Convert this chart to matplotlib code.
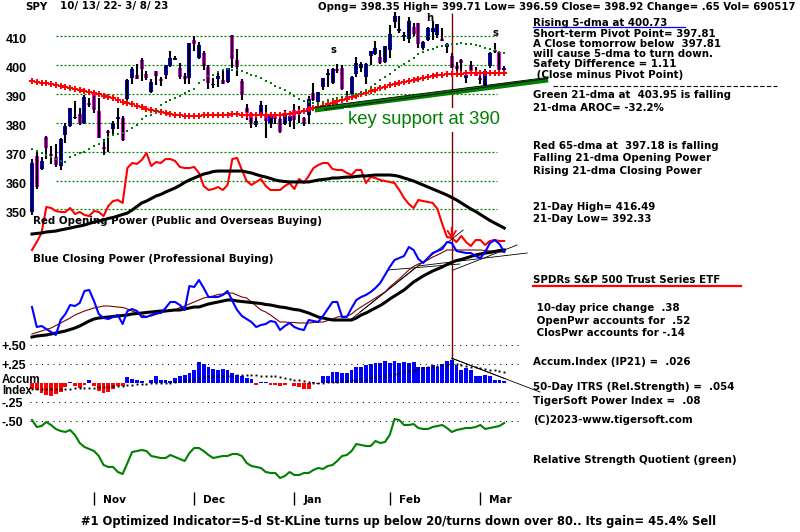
import matplotlib
matplotlib.use("Agg")
import matplotlib.pyplot as plt
from matplotlib.lines import Line2D

# TigerSoft style chart for SPY, 10/13/22 - 3/8/23

months = ["Nov", "Dec", "Jan", "Feb", "Mar"]
month_idx = [13, 34, 55, 75, 94]

opens = [349.21, 368.55, 364.01, 375.13, 368.95, 368.03, 365.12, 375.89, 378.79, 381.62,
         383.07, 379.87, 386.44, 390.14, 383.90, 371.47, 377.13, 377.71, 381.11, 381.58,
         388.05, 395.59, 396.66, 401.70, 396.79, 390.46, 397.74, 394.64, 396.63, 399.55,
         401.83, 399.09, 396.05, 395.49, 408.77, 402.25, 403.95, 399.42, 392.94, 395.14,
         394.94, 394.11, 410.22, 401.61, 394.30, 385.18, 383.47, 379.23, 382.98, 383.05,
         379.65, 382.79, 381.33, 379.63, 380.64, 384.37, 383.18, 381.72, 382.61, 390.37,
         387.25, 392.23, 396.67, 393.62, 398.48, 399.01, 389.36, 390.10, 396.72, 398.88,
         395.95, 403.13, 403.66, 402.80, 401.13, 405.21, 414.86, 411.59, 409.79, 408.87,
         413.13, 414.41, 405.86, 408.72, 411.24, 410.35, 408.79, 406.06, 403.06, 399.52,
         401.56, 395.42, 399.87, 397.23, 395.41, 392.68, 399.71, 405.05, 404.42, 398.35]
highs = [367.51, 370.26, 367.98, 375.45, 371.85, 372.67, 374.80, 380.06, 385.25, 387.58,
         385.00, 389.52, 388.40, 390.39, 388.63, 374.20, 377.49, 380.57, 385.12, 382.42,
         395.04, 399.35, 400.18, 402.31, 397.78, 394.95, 397.81, 395.82, 400.07, 404.93,
         402.91, 400.81, 397.30, 407.68, 410.00, 407.86, 404.93, 399.99, 395.64, 397.36,
         397.79, 398.99, 410.49, 405.50, 395.25, 386.58, 383.82, 383.40, 387.41, 386.21,
         383.06, 383.15, 383.39, 384.35, 382.58, 386.43, 385.88, 381.84, 389.25, 393.70,
         390.65, 395.60, 398.49, 399.10, 400.23, 400.12, 391.08, 396.04, 402.65, 401.15,
         400.70, 404.92, 408.16, 405.13, 406.53, 413.67, 418.31, 416.97, 411.29, 416.49,
         414.53, 414.57, 408.44, 412.97, 415.05, 414.06, 412.91, 407.51, 404.16, 401.13,
         402.20, 397.25, 401.29, 399.28, 396.69, 398.69, 404.45, 407.45, 404.67, 399.71]
lows = [348.11, 356.96, 363.51, 367.52, 365.55, 364.61, 363.54, 373.11, 378.67, 381.35,
        379.33, 379.68, 385.26, 383.29, 374.76, 368.79, 369.94, 375.98, 377.72, 373.61,
        385.64, 393.53, 395.13, 394.49, 394.79, 390.14, 393.04, 392.66, 395.15, 399.18,
        401.54, 395.11, 393.30, 393.48, 404.75, 402.14, 398.17, 391.64, 391.97, 392.41,
        393.29, 393.80, 399.07, 396.31, 387.89, 381.04, 378.28, 378.43, 382.66, 374.77,
        378.03, 379.65, 376.42, 379.08, 378.43, 377.83, 380.00, 378.76, 379.41, 387.67,
        386.27, 391.38, 392.42, 393.34, 397.06, 391.28, 387.26, 388.38, 395.72, 397.64,
        393.56, 400.03, 403.44, 400.28, 400.77, 402.35, 412.88, 411.09, 408.10, 407.57,
        409.93, 405.81, 405.01, 408.24, 408.51, 409.47, 408.14, 404.05, 398.82, 397.02,
        396.25, 393.64, 396.75, 396.15, 393.38, 392.33, 399.03, 404.01, 397.63, 396.59]
closes = [365.97, 357.63, 366.82, 371.13, 368.50, 365.41, 374.29, 378.87, 384.92, 382.02,
          379.98, 389.02, 386.21, 384.52, 374.87, 371.01, 376.35, 379.95, 382.00, 374.13,
          394.69, 398.51, 395.12, 398.49, 395.45, 394.24, 396.03, 394.59, 399.90, 402.42,
          402.33, 395.91, 395.23, 407.68, 407.38, 406.91, 399.59, 393.83, 393.16, 396.24,
          393.28, 398.95, 401.97, 399.40, 389.63, 383.27, 380.02, 380.54, 386.23, 380.72,
          382.91, 381.40, 376.66, 383.44, 382.43, 380.82, 383.76, 379.38, 388.08, 387.86,
          390.58, 395.52, 396.96, 398.50, 397.77, 391.49, 388.64, 395.88, 400.63, 400.20,
          400.35, 404.75, 405.68, 400.59, 406.48, 410.80, 416.78, 412.35, 409.83, 415.19,
          410.65, 407.09, 408.04, 412.83, 412.64, 413.98, 408.28, 407.26, 399.09, 398.54,
          400.66, 396.38, 397.73, 396.26, 394.74, 397.81, 404.19, 404.47, 398.27, 398.92]

ma21 = [371.0, 370.3, 369.5, 368.8, 368.0, 367.3, 366.7, 366.3, 368.0, 368.8,
        369.4, 370.0, 371.0, 372.0, 372.8, 373.8, 375.0, 375.6, 376.1, 376.6,
        377.3, 378.1, 379.2, 381.3, 382.3, 382.7, 384.2, 386.0, 387.0, 388.0,
        388.7, 389.4, 390.3, 391.0, 391.8, 393.6, 394.8, 396.0, 396.5, 397.5,
        398.2, 398.5, 398.4, 398.1, 397.8, 397.2, 396.5, 396.0, 395.5, 394.6,
        393.7, 392.7, 391.9, 391.3, 390.4, 389.3, 388.2, 387.4, 387.0, 386.8,
        386.9, 387.3, 387.8, 388.3, 388.7, 389.0, 389.3, 389.6, 389.9, 390.3,
        391.2, 392.3, 393.5, 394.7, 395.8, 397.0, 398.1, 399.2, 400.3, 401.4,
        402.5, 403.6, 404.3, 405.0, 405.6, 406.1, 406.5, 406.9, 407.2, 407.4,
        407.5, 407.4, 407.2, 406.9, 406.5, 406.0, 405.5, 405.0, 404.5, 403.95]
ma65 = [394.3, 394.0, 393.8, 393.6, 393.4, 393.0, 392.6, 392.2, 391.9, 391.6,
        391.3, 391.0, 390.7, 390.4, 389.9, 389.4, 388.9, 388.4, 387.9, 387.3,
        386.8, 386.3, 385.8, 385.3, 384.8, 384.4, 384.0, 383.6, 383.3, 383.0,
        382.7, 382.5, 382.4, 382.3, 382.3, 382.4, 382.5, 382.6, 382.7, 382.7,
        382.8, 382.8, 382.9, 382.9, 382.8, 382.7, 382.7, 382.6, 382.6, 382.7,
        382.7, 382.8, 382.8, 382.9, 383.0, 383.4, 383.8, 384.2, 384.6, 385.0,
        385.4, 385.9, 386.4, 386.9, 387.4, 387.9, 388.3, 388.8, 389.3, 389.8,
        390.4, 390.9, 391.4, 391.9, 392.4, 392.9, 393.3, 393.7, 394.1, 394.5,
        394.9, 395.2, 395.5, 395.8, 396.1, 396.4, 396.6, 396.8, 396.9, 397.0,
        397.0, 397.1, 397.1, 397.1, 397.2, 397.2, 397.2, 397.2, 397.2, 397.18]

# Opening Power (red) and its 21-dma (black), relative units
op = [0.0, 6.7, 14.2, 35.8, 35.0, 32.5, 31.7, 31.7, 35.0, 30.0,
      31.7, 29.2, 28.3, 32.5, 31.7, 28.3, 36.7, 40.8, 41.7, 39.2,
      68.3, 72.5, 71.7, 75.0, 80.8, 70.0, 73.3, 72.5, 75.8, 75.8,
      74.2, 69.2, 68.3, 68.3, 69.2, 64.2, 53.3, 50.0, 50.8, 52.5,
      50.0, 54.2, 75.8, 76.7, 66.7, 57.5, 54.2, 56.7, 59.2, 53.3,
      50.0, 50.0, 50.0, 53.3, 55.8, 50.8, 59.2, 55.8, 61.7, 68.3,
      70.8, 72.5, 72.5, 67.5, 66.7, 66.7, 64.2, 62.5, 66.7, 66.7,
      55.8, 60.8, 60.0, 58.3, 57.5, 56.7, 55.8, 50.0, 43.3, 38.3,
      35.0, 41.7, 40.8, 40.0, 39.2, 34.2, 21.7, 10.8, 10.0, 6.7,
      11.7, 6.7, 3.3, 8.3, 8.3, 4.2, 7.5, 8.3, 7.5, 7.5]
op_ma = [13.3, 13.8, 14.2, 15.0, 15.4, 15.8, 16.7, 17.5, 18.3, 19.2,
         20.0, 20.8, 22.1, 23.3, 24.2, 25.0, 26.3, 27.1, 28.3, 29.6,
         30.8, 33.3, 36.3, 39.2, 40.8, 42.9, 45.0, 46.3, 48.3, 50.0,
         51.7, 53.8, 56.3, 58.3, 60.0, 61.7, 63.3, 64.2, 65.4, 65.8,
         65.8, 65.8, 65.8, 65.8, 65.8, 65.0, 64.2, 62.9, 61.7, 60.8,
         59.6, 58.3, 57.5, 57.1, 56.7, 56.7, 56.7, 56.7, 56.7, 57.5,
         58.3, 58.8, 59.2, 60.0, 60.0, 60.4, 60.8, 60.8, 61.3, 61.7,
         61.7, 62.1, 62.5, 62.5, 62.5, 62.5, 62.1, 61.3, 60.0, 58.8,
         57.5, 55.8, 54.2, 52.5, 50.8, 49.2, 47.5, 45.8, 43.8, 41.7,
         39.2, 36.7, 34.2, 32.1, 29.6, 27.1, 24.6, 22.5, 20.4, 18.3]

# Closing Power (blue), its 21-dma (black) and a faster average (dark red)
cp = [33, 13, 14, 11, 8, 5, 20, 26, 35, 34,
      37, 49, 50, 39, 26, 22, 21, 23, 25, 16,
      29, 31, 29, 23, 23, 25, 27, 27, 32, 38,
      38, 35, 30, 54, 53, 60, 52, 43, 43, 43,
      45, 49, 39, 30, 24, 21, 18, 13, 15, 16,
      19, 18, 10, 14, 17, 13, 11, 10, 20, 19,
      18, 24, 31, 38, 38, 23, 23, 32, 40, 43,
      45, 48, 52, 57, 65, 73, 80, 82, 84, 93,
      90, 81, 77, 82, 87, 89, 91, 98, 97, 89,
      88, 87, 87, 84, 82, 88, 97, 100, 96, 88]
cp_ma = [3, 4, 4.5, 5, 6, 7, 8, 9, 10.5, 12,
         14, 16.5, 19, 21, 22, 22.5, 23, 23.5, 24, 24.5,
         25, 26, 26.5, 27, 27.5, 28, 28.5, 29, 29, 29.5,
         30, 30, 31, 32, 33, 33, 34.5, 36, 37, 38,
         39, 40, 40, 39, 38.5, 38, 37.5, 37, 36.5, 35.5,
         35, 34, 33, 32.5, 31.5, 30.5, 30, 28.5, 27, 25,
         23, 22, 21, 20, 20, 20, 20, 20, 22, 25,
         27, 29.5, 32, 34.5, 37.5, 41, 44, 47, 50, 54,
         58, 61, 64, 66.5, 69, 71, 73, 75.5, 77.5, 79.5,
         80.5, 82, 83.5, 85, 86, 87, 87.5, 88.5, 89.5, 90]
cp_fast = [6, 7.5, 9, 10.5, 12, 14.5, 17, 19.5, 22, 25,
           27, 29, 30.5, 32, 33, 34, 34, 33.5, 33, 32.5,
           31, 29, 27, 25, 23.5, 24, 25.5, 27, 28.5, 29.5,
           30, 32.5, 34, 36, 38, 40, 42, 43, 44, 45.5,
           46, 46.5, 47, 45, 43, 42, 38, 34, 30, 28,
           25, 21.5, 18, 18, 17.5, 17.5, 17, 17, 17, 17.5,
           18, 18, 19.5, 21, 23, 23.5, 24, 26, 30, 33,
           36, 39, 42, 45, 48, 53, 57, 61, 65.5, 70,
           73.5, 76, 78, 80, 83, 85, 87.5, 90, 90, 90,
           90, 90, 90, 90, 90, 89.5, 89, 89, 88, 88]

# Accumulation Index (IP21) and its average
accum = [-0.08, -0.09, -0.13, -0.16, -0.17, -0.14, -0.12, -0.05, 0.02, -0.03,
         -0.06, -0.02, 0.05, -0.03, -0.10, -0.13, -0.12, -0.07, -0.04, -0.04,
         0.08, 0.06, 0.05, 0.03, 0.01, 0.05, 0.09, 0.05, 0.04, 0.03,
         0.07, 0.09, 0.11, 0.14, 0.18, 0.28, 0.26, 0.21, 0.19, 0.18,
         0.19, 0.18, 0.14, 0.11, 0.09, 0.07, 0.06, -0.02, 0.02, 0.02,
         -0.02, -0.02, -0.03, -0.02, 0.01, -0.04, -0.05, -0.07, -0.08, 0.02,
         -0.01, 0.09, 0.09, 0.15, 0.15, 0.14, 0.13, 0.17, 0.21, 0.21,
         0.24, 0.26, 0.27, 0.27, 0.29, 0.27, 0.29, 0.27, 0.28, 0.27,
         0.28, 0.22, 0.21, 0.22, 0.24, 0.22, 0.26, 0.29, 0.31, 0.24,
         0.18, 0.20, 0.18, 0.09, 0.10, 0.11, 0.09, 0.04, 0.04, 0.03]
accum_ma = [-0.08, -0.08, -0.08, -0.08, -0.075, -0.075, -0.07, -0.07, -0.07, -0.065,
            -0.065, -0.06, -0.06, -0.06, -0.055, -0.05, -0.045, -0.04, -0.035, -0.03,
            -0.025, -0.02, -0.015, -0.01, -0.005, 0.0, 0.005, 0.01, 0.01, 0.01,
            0.02, 0.03, 0.04, 0.05, 0.06, 0.07, 0.08, 0.09, 0.09, 0.10,
            0.10, 0.10, 0.10, 0.105, 0.11, 0.11, 0.11, 0.11, 0.10, 0.10,
            0.09, 0.09, 0.08, 0.07, 0.06, 0.05, 0.04, 0.03, 0.02, 0.01,
            0.01, 0.01, 0.015, 0.02, 0.02, 0.025, 0.03, 0.04, 0.05, 0.055,
            0.06, 0.07, 0.08, 0.09, 0.10, 0.11, 0.125, 0.14, 0.155, 0.165,
            0.18, 0.19, 0.20, 0.21, 0.22, 0.23, 0.24, 0.245, 0.25, 0.25,
            0.24, 0.23, 0.22, 0.21, 0.20, 0.19, 0.18, 0.17, 0.16, 0.15]

# Relative Strength Quotient (green), relative units
rsq = [60, 53, 54, 58, 55, 51, 49, 48, 50, 45,
       37, 33, 31, 29, 24, 15, 13, 13, 8, 6,
       17, 28, 29, 30, 29, 24, 23, 22, 22, 25,
       23, 21, 19, 27, 32, 32, 29, 25, 22, 23,
       24, 24, 26, 26, 24, 17, 14, 13, 12, 8,
       7, 7, 2, 4, 8, 5, 5, 7, 7, 10,
       12, 11, 14, 15, 19, 24, 25, 29, 36, 35,
       34, 34, 39, 37, 38, 45, 61, 60, 55, 55,
       56, 52, 51, 51, 53, 54, 55, 52, 48, 50,
       51, 52, 52, 53, 55, 51, 52, 53, 54, 57]

# annotations drawn on the chart
marker_day = 88
pattern_text = ["s", "h", "s"]
pattern_x = [63.2, 83.4, 97.1]
pattern_y = [405.2, 416.2, 411.0]
support_x = [59.3, 108.2]
support_y = [384.4, 394.8]
trend_cp = [((66.7, 20), (90.4, 110)), ((68.8, 28), (80.3, 72)), ((74.6, 70), (89.7, 76)),
            ((80.9, 74), (103.8, 87)), ((88.3, 70), (101.7, 95))]

W, H = 800, 532
DAYS = list(range(len(closes)))
X0, X1 = -32 / 4.77, 768 / 4.77

plt.rcParams["font.family"] = "DejaVu Sans"
fig = plt.figure(figsize=(8, 5.32), dpi=100)
fig.patch.set_facecolor("white")


def panel(top, bottom, lo, hi):
    # full-figure axes where value hi sits at pixel row top and lo at bottom
    s = (bottom - top) / (hi - lo)
    ax = fig.add_axes([0, 0, 1, 1])
    ax.set_xlim(X0, X1)
    ax.set_ylim(lo - (H - bottom) / s, hi + top / s)
    ax.axis("off")
    return ax


def ftext(x, y, s, size=7.4, **kw):
    kw.setdefault("weight", "bold")
    kw.setdefault("color", "black")
    fig.text(x / W, 1 - y / H, s, fontsize=size, va="center", ha="left", **kw)


# ---- price panel ----
ax = panel(36, 209.4, 350, 410)
for p in [410, 400, 390, 380, 370, 360, 350]:
    ax.plot([5.0, 97.5], [p, p], color="#008000", lw=0.9, dashes=(1.6, 1.6))
    ax.annotate(str(p), (6, p), xycoords=("figure pixels", "data"), xytext=(0, -3),
                textcoords="offset points", va="center", ha="left",
                fontsize=9, weight="bold", family="Liberation Sans")

ax.vlines(marker_day, 292, 418, color="#800000", lw=1.0)
ax.vlines(DAYS, lows, highs, color="black", lw=1.5)
body_bot = [min(o, c) for o, c in zip(opens, closes)]
body_h = [max(abs(c - o), 0.5) for o, c in zip(opens, closes)]
body_col = ["#0000FF" if c >= o else "#FF00FF" for o, c in zip(opens, closes)]
ax.bar(DAYS, body_h, bottom=body_bot, width=0.84, color=body_col, lw=0)
ax.plot(DAYS, ma65, ls="none", marker="+", ms=3.8, mew=1.4, color="#FF0000")
ax.plot(DAYS, ma21, ls="none", marker="s", ms=1.6, mew=0, color="#008000")
ax.plot(support_x, support_y, color="#008000", lw=3.6, solid_capstyle="butt")
ax.plot(support_x, [support_y[0] + 0.9, support_y[1] + 0.9], color="black", lw=0.6)
ax.plot([support_x[0] + 2, support_x[1]], [support_y[0] + 0.2, support_y[1] + 0.5], color="black", lw=0.6)
for t, px, py in zip(pattern_text, pattern_x, pattern_y):
    ax.text(px, py, t, ha="center", va="center", fontsize=7.2, weight="bold")

# ---- opening power ----
ax_op = panel(130, 250, 0, 100)
ax_op.plot(DAYS, op, color="#FF0000", lw=1.5)
ax_op.plot(DAYS, op_ma, color="black", lw=2.2)
ax_op.annotate("", xy=(marker_day, 6.5), xytext=(marker_day, 21),
               arrowprops=dict(arrowstyle="->,head_length=0.5,head_width=0.3", color="#FF0000", lw=1.3))

# ---- closing power ----
ax_cp = panel(240, 340, 0, 100)
for (xa, ya), (xb, yb) in trend_cp:
    ax_cp.plot([xa, xb], [ya, yb], color="black", lw=0.6)
ax_cp.plot(DAYS, cp_fast, color="#800000", lw=0.8)
ax_cp.plot(DAYS, cp_ma, color="black", lw=2.2)
ax_cp.plot(DAYS, cp, color="#0000FF", lw=1.5)

# ---- accumulation index ----
ax_ac = panel(345.3, 421.3, -0.5, 0.5)
for lvl in [0.5, 0.25, -0.25, -0.5]:
    ax_ac.plot([-0.4, 101.9], [lvl, lvl], color="black", lw=0.75, dashes=(1, 4.5))
ac_col = ["#0000FF" if v >= 0 else "#FF0000" for v in accum]
ax_ac.bar(DAYS, accum, width=0.8, color=ac_col, lw=0)
ax_ac.plot(DAYS, accum_ma, ls="none", marker="s", ms=1.4, mew=0, color="black")
ax_ac.plot([marker_day, 99.2], [0.33, 0.06], color="black", lw=0.6)
ax_ac.plot([marker_day, 106.5], [0.33, -0.115], color="black", lw=0.6)
for lbl, lvl in [("+.50", 0.5), ("+.25", 0.25), ("-.25", -0.25), ("-.50", -0.5)]:
    ax_ac.annotate(lbl, (2, lvl), xycoords=("figure pixels", "data"), xytext=(0, -1),
                   textcoords="offset points", va="center", ha="left",
                   fontsize=9, weight="bold", family="Liberation Sans")

# ---- relative strength quotient ----
ax_rs = panel(400, 480, 0, 80)
ax_rs.plot(DAYS, rsq, color="#008000", lw=1.5)

# ---- month ticks ----
ax_m = panel(492, 505, 0, 1)
ax_m.vlines(month_idx, 0, 1, color="black", lw=1.0)
for m, i in zip(months, month_idx):
    ax_m.annotate(m, (i, 0.35), xytext=(6.5, 0), textcoords="offset points",
                  va="center", ha="left", fontsize=7.6, weight="bold")

# ---- texts ----
ftext(25, 6.5, "SPY")
ftext(60, 6.5, "10/ 13/ 22- 3/ 8/ 23")
ftext(318, 6.5, "Opng= 398.35 High= 399.71 Low= 396.59 Close= 398.92 Change= .65 Vol= 690517",
      size=7.3)
ftext(348, 120, "key support at 390", size=13.3, weight="normal", color="#008000",
      family="Liberation Sans",
      bbox=dict(facecolor="white", edgecolor="none", pad=2.5))
ftext(33, 221, "Red Opening Power (Public and Overseas Buying)")
ftext(33, 259, "Blue Closing Power (Professional Buying)")
ftext(2, 380, "Accum", size=8.3, family="Liberation Sans")
ftext(2, 391, "Index", size=8.3, family="Liberation Sans")

right_texts = [
    (22.5, "Rising 5-dma at 400.73"),
    (34, "Short-term Pivot Point= 397.81"),
    (44, "A Close tomorrow below  397.81"),
    (54, "will cause 5-dma to turn down."),
    (64, "Safety Difference = 1.11"),
    (74.5, " (Close minus Pivot Point)"),
    (95, "Green 21-dma at  403.95 is falling"),
    (107.5, "21-dma AROC= -32.2%"),
    (146, "Red 65-dma at  397.18 is falling"),
    (158, "Falling 21-dma Opening Power"),
    (171, "Rising 21-dma Closing Power"),
    (207.5, "21-Day High= 416.49"),
    (219, "21-Day Low= 392.33"),
    (280, "SPDRs S&P 500 Trust Series ETF"),
    (308, " 10-day price change  .38"),
    (321, " OpenPwr accounts for  .52"),
    (333, " ClosPwr accounts for -.14"),
    (362, "Accum.Index (IP21) =  .026"),
    (387, "50-Day ITRS (Rel.Strength) =  .054"),
    (401, "TigerSoft Power Index =  .08"),
    (420, "(C)2023-www.tigersoft.com"),
    (460, "Relative Strength Quotient (green)"),
]
for y, s in right_texts:
    ftext(533, y, s)

ftext(81, 521, "#1 Optimized Indicator=5-d St-KLine turns up below 20/turns down over 80.. "
      "Its gain= 45.4% Sell", size=8.3)

# underlines and the pivot dashed line
fig.add_artist(Line2D([533 / W, 685 / W], [1 - 26.5 / H, 1 - 26.5 / H], color="#0000FF", lw=0.9))
fig.add_artist(Line2D([533 / W, 741 / W], [1 - 286 / H, 1 - 286 / H], color="#FF0000", lw=1.6))
fig.add_artist(Line2D([553 / W, 777 / W], [1 - 86 / H, 1 - 86 / H], color="black", lw=0.8,
                      dashes=(4, 2)))

plt.savefig("out.png", dpi=100)
